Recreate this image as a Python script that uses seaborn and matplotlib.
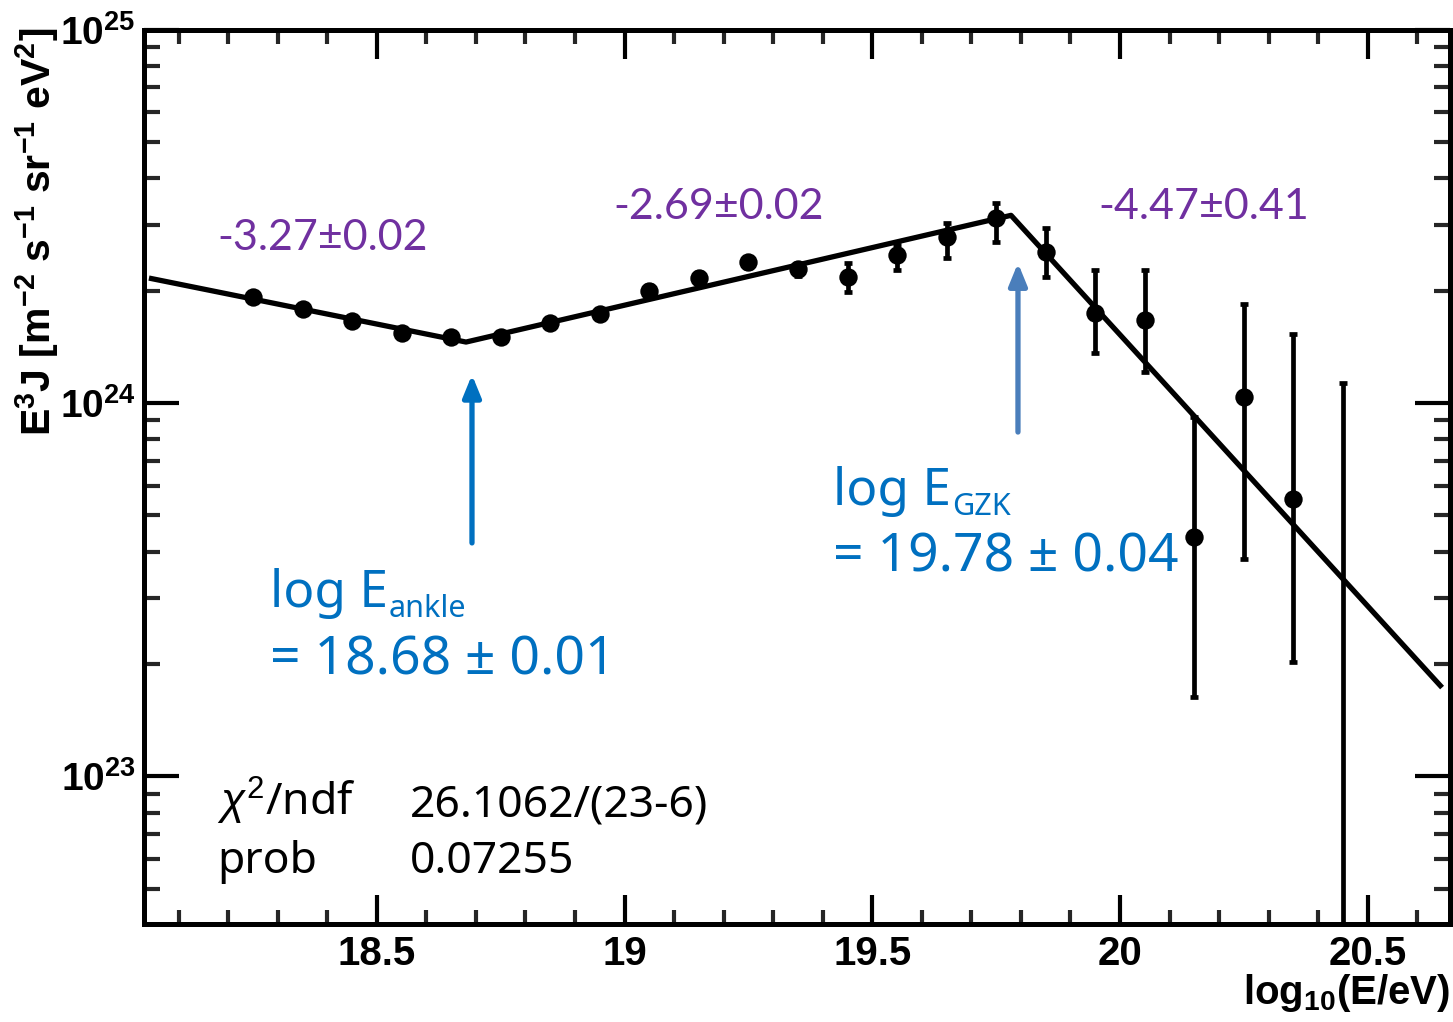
import numpy as np
import pandas as pd
import matplotlib
matplotlib.use("Agg")
import matplotlib.pyplot as plt
import seaborn as sns
from matplotlib.ticker import MultipleLocator, LogLocator, NullFormatter, FixedLocator

# ---------------- data ----------------
log_e = [18.25, 18.35, 18.45, 18.55, 18.65, 18.75, 18.85, 18.95, 19.05, 19.15,
         19.25, 19.35, 19.45, 19.55, 19.65, 19.75, 19.85, 19.95, 20.05, 20.15,
         20.25, 20.35, 20.45]
flux = [1.92e24, 1.79e24, 1.66e24, 1.54e24, 1.50e24, 1.50e24, 1.64e24, 1.73e24,
        2.00e24, 2.16e24, 2.38e24, 2.28e24, 2.17e24, 2.49e24, 2.78e24, 3.13e24,
        2.53e24, 1.74e24, 1.67e24, 4.38e23, 1.04e24, 5.53e23, 1.0e22]
flux_hi = [1.95e24, 1.82e24, 1.69e24, 1.57e24, 1.53e24, 1.53e24, 1.68e24, 1.78e24,
           2.07e24, 2.24e24, 2.46e24, 2.37e24, 2.37e24, 2.65e24, 3.03e24, 3.43e24,
           2.94e24, 2.27e24, 2.27e24, 9.18e23, 1.84e24, 1.53e24, 1.13e24]
flux_lo = [1.89e24, 1.76e24, 1.63e24, 1.51e24, 1.47e24, 1.47e24, 1.60e24, 1.68e24,
           1.93e24, 2.08e24, 2.30e24, 2.19e24, 1.98e24, 2.27e24, 2.44e24, 2.70e24,
           2.17e24, 1.36e24, 1.21e24, 1.63e23, 3.82e23, 2.03e23, 1.0e21]

fit_x = [18.04, 18.68, 19.78, 20.65]
fit_y = [2.16e24, 1.456e24, 3.18e24, 1.73e23]

x_ticks = [18.5, 19.0, 19.5, 20.0, 20.5]
x_tick_labels = ["18.5", "19", "19.5", "20", "20.5"]
y_ticks = [1e23, 1e24, 1e25]
y_tick_labels = [r"$\mathbf{10^{23}}$", r"$\mathbf{10^{24}}$", r"$\mathbf{10^{25}}$"]

slope_labels = ["-3.27\u00b10.02", "-2.69\u00b10.02", "-4.47\u00b10.41"]
break_names = ["ankle", "GZK"]
break_values = ["= 18.68 \u00b1 0.01", "= 19.78 \u00b1 0.04"]
arrow_x = [18.692, 19.794]
arrow_from = [4.22e23, 8.36e23]
arrow_to = [1.19e24, 2.37e24]
stats_names = [r"$\chi^2$/ndf", "prob"]
stats_values = ["26.1062/(23-6)", "0.07255"]

# ---------------- figure ----------------
sns.set_theme(style="white")
plt.rcParams["font.family"] = ["Liberation Sans", "DejaVu Sans"]
plt.rcParams["mathtext.fontset"] = "custom"
plt.rcParams["mathtext.rm"] = "Liberation Sans"
plt.rcParams["mathtext.bf"] = "Liberation Sans:bold"
plt.rcParams["mathtext.it"] = "Liberation Sans:italic"

W, H = 1453, 1022
fig = plt.figure(figsize=(W / 100, H / 100), dpi=100)
ax = fig.add_axes([144 / W, 1 - 924 / H, (1450 - 144) / W, (924 - 29.5) / H])

df_pts = pd.DataFrame({"log_e": log_e, "flux": flux})
df_fit = pd.DataFrame({"x": fit_x, "y": fit_y})

sns.lineplot(data=df_fit, x="x", y="y", ax=ax, color="black", lw=3.8,
             solid_capstyle="butt", zorder=3)

yerr = [np.array(flux) - np.array(flux_lo), np.array(flux_hi) - np.array(flux)]
ax.errorbar(log_e, flux, yerr=yerr, fmt="none", ecolor="black", elinewidth=3.4,
            capsize=2.6, capthick=3.4, zorder=4)
sns.scatterplot(data=df_pts, x="log_e", y="flux", ax=ax, color="black", s=175,
                edgecolor="black", linewidth=0, zorder=5, legend=False)

ax.set_yscale("log")
ax.set_xlim(18.030, 20.666)
ax.set_ylim(10 ** 22.605, 1e25)

ax.xaxis.set_major_locator(FixedLocator(x_ticks))
ax.set_xticklabels(x_tick_labels)
ax.xaxis.set_minor_locator(MultipleLocator(0.1))
ax.yaxis.set_major_locator(FixedLocator(y_ticks))
ax.set_yticklabels(y_tick_labels)
ax.yaxis.set_minor_locator(LogLocator(base=10, subs=np.arange(2, 10)))
ax.yaxis.set_minor_formatter(NullFormatter())

for sp in ax.spines.values():
    sp.set_linewidth(3.6)
    sp.set_color("black")

ax.tick_params(axis="x", which="major", direction="in", length=21, width=3.0,
               top=True, bottom=True, labelsize=29, pad=8, colors="black")
ax.tick_params(axis="x", which="minor", direction="in", length=10, width=3.0,
               top=True, bottom=True)
ax.tick_params(axis="y", which="major", direction="in", length=25, width=3.0,
               left=True, right=True, labelsize=28, pad=6, colors="black")
ax.tick_params(axis="y", which="minor", direction="in", length=11.5, width=3.0,
               left=True, right=True)
for lab in ax.get_xticklabels():
    lab.set_fontweight("bold")

ax.set_xlabel("")
ax.set_ylabel("")
fig.text(1450 / W, 1 - 972 / H, r"$\mathbf{log_{10}(E/eV)}$", ha="right", va="top",
         fontsize=29, color="black")
fig.text(37 / W, 1 - 232 / H,
         r"$\mathbf{E^{3}J\ [m^{-2}\ s^{-1}\ sr^{-1}\ eV^{2}]}$",
         rotation=90, ha="center", va="center", fontsize=29.5, color="black")

purple = "#7030A0"
pfont = ["Lato", "DejaVu Sans"]
fig.text(217 / W, 1 - 238 / H, slope_labels[0], color=purple, fontsize=31,
         family=pfont, ha="left", va="center")
fig.text(613 / W, 1 - 207 / H, slope_labels[1], color=purple, fontsize=31,
         family=pfont, ha="left", va="center")
fig.text(1098 / W, 1 - 207 / H, slope_labels[2], color=purple, fontsize=31,
         family=pfont, ha="left", va="center")

blue = "#0070C0"
arrow_colors = ["#0070C0", "#4A7EBB"]
for xa, y0, y1, c in zip(arrow_x, arrow_from, arrow_to, arrow_colors):
    ax.annotate("", xy=(xa, y1), xytext=(xa, y0),
                arrowprops=dict(arrowstyle="-|>,head_length=1.1,head_width=0.45",
                                color=c, lw=3.8, shrinkA=0, shrinkB=0), zorder=6)

bfont = ["Noto Sans", "DejaVu Sans"]
renderer = fig.canvas.get_renderer()


def label_with_sub(x_px, y_px, sub):
    t = fig.text(x_px / W, 1 - y_px / H, "log E", color=blue, fontsize=37,
                 family=bfont, ha="left", va="baseline")
    bb = t.get_window_extent(renderer=renderer)
    fig.text((bb.x1 + 1) / W, (1 - y_px / H) - 10 / H, sub, color=blue,
             fontsize=22, family=bfont, ha="left", va="baseline")


label_with_sub(270, 607, break_names[0])
fig.text(270 / W, 1 - 674 / H, break_values[0], color=blue, fontsize=38.5,
         family=bfont, ha="left", va="baseline")
label_with_sub(833, 505, break_names[1])
fig.text(833 / W, 1 - 571 / H, break_values[1], color=blue, fontsize=38.5,
         family=bfont, ha="left", va="baseline")

kfont = ["Noto Sans", "DejaVu Sans"]
fig.text(217 / W, 1 - 816 / H, stats_names[0], color="black", fontsize=32, family=kfont,
         ha="left", va="baseline")
fig.text(217 / W, 1 - 873 / H, stats_names[1], color="black", fontsize=32, family=kfont,
         ha="left", va="baseline")
fig.text(410 / W, 1 - 816 / H, stats_values[0], color="black", fontsize=32, family=kfont,
         ha="left", va="baseline")
fig.text(410 / W, 1 - 873 / H, stats_values[1], color="black", fontsize=32, family=kfont,
         ha="left", va="baseline")

fig.savefig("out.png", dpi=100)
